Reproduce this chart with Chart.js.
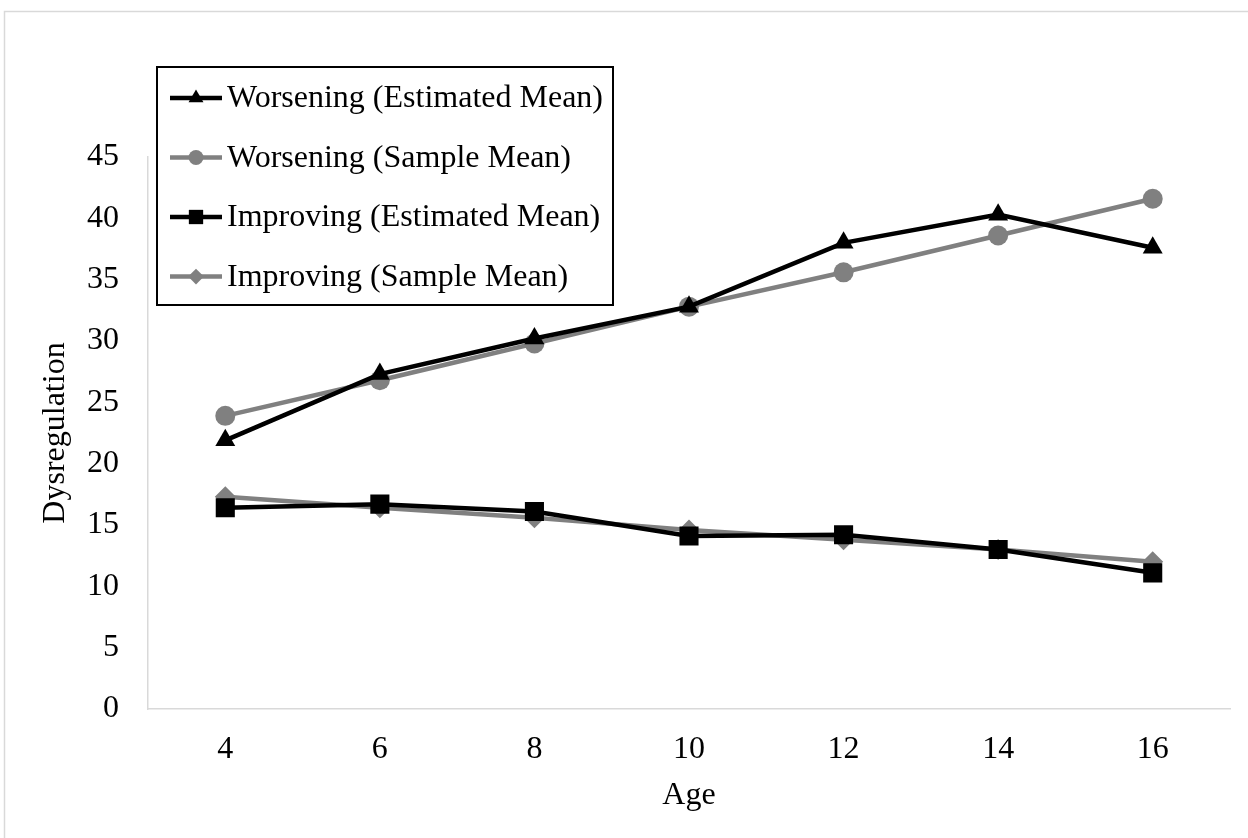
<!DOCTYPE html>
<html>

<head>
  <meta charset="utf-8">
  <script src="https://cdn.jsdelivr.net/npm/chart.js@4/dist/chart.umd.min.js"></script>
  <style>
    html, body { margin: 0; padding: 0; background: #fff; }
    #wrap { width: 1248px; height: 838px; }
  </style>
</head>

<body>
  <div id="wrap"><canvas id="chart" width="1248" height="838"></canvas></div>
  <script>
    var ages = ['4', '6', '8', '10', '12', '14', '16'];
    var worseningEstimated = [21.9, 27.3, 30.2, 32.8, 38.0, 40.3, 37.6];
    var worseningSample = [23.9, 26.8, 29.8, 32.8, 35.6, 38.6, 41.6];
    var improvingEstimated = [16.4, 16.7, 16.1, 14.1, 14.2, 13.0, 11.1];
    var improvingSample = [17.3, 16.4, 15.6, 14.6, 13.8, 13.0, 12.0];
    var yTicks = [0, 5, 10, 15, 20, 25, 30, 35, 40, 45];

    var serif = "'Liberation Serif', 'Times New Roman', serif";
    var fontSize = 32;

    function series(label, values, color, style, radius) {
      return {
        label: label,
        data: values,
        borderColor: color,
        backgroundColor: color,
        borderWidth: 4.5,
        pointStyle: style,
        pointRadius: radius,
        pointHoverRadius: radius,
        pointBorderWidth: 0,
        tension: 0
      };
    }

    // outer chart frame
    var framePlugin = {
      id: 'frame',
      beforeDraw: function (chart) {
        var ctx = chart.ctx;
        ctx.save();
        ctx.fillStyle = '#fff';
        ctx.fillRect(0, 0, chart.width, chart.height);
        ctx.strokeStyle = '#d9d9d9';
        ctx.lineWidth = 1.5;
        ctx.strokeRect(4.5, 11.5, chart.width + 20, chart.height + 20);
        ctx.restore();
      }
    };

    // boxed legend drawn over the top left of the plot
    var boxLegend = {
      id: 'boxLegend',
      afterDatasetsDraw: function (chart) {
        var ctx = chart.ctx;
        var x0 = 157, y0 = 67, w = 456, h = 238;
        ctx.save();
        ctx.fillStyle = '#fff';
        ctx.fillRect(x0, y0, w, h);
        ctx.strokeStyle = '#000';
        ctx.lineWidth = 2;
        ctx.strokeRect(x0, y0, w, h);
        ctx.font = fontSize + 'px ' + serif;
        ctx.textBaseline = 'middle';
        ctx.textAlign = 'left';
        chart.data.datasets.forEach(function (ds, i) {
          var y = 98 + i * 59.5;
          ctx.strokeStyle = ds.borderColor;
          ctx.lineWidth = 4.5;
          ctx.beginPath();
          ctx.moveTo(170, y);
          ctx.lineTo(222, y);
          ctx.stroke();
          ctx.fillStyle = ds.backgroundColor;
          Chart.helpers.drawPoint(ctx, {
            pointStyle: ds.pointStyle,
            radius: ds.pointRadius * 0.75,
            rotation: 0,
            borderWidth: 0
          }, 196, y);
          ctx.fillStyle = '#000';
          ctx.fillText(ds.label, 227, y + 1);
        });
        ctx.restore();
      }
    };

    new Chart('chart', {
      type: 'line',
      data: {
        labels: ages,
        datasets: [
          series('Worsening (Estimated Mean)', worseningEstimated, '#000000', 'triangle', 11.5),
          series('Worsening (Sample Mean)', worseningSample, '#808080', 'circle', 10),
          series('Improving (Estimated Mean)', improvingEstimated, '#000000', 'rect', 13.5),
          series('Improving (Sample Mean)', improvingSample, '#808080', 'rectRot', 10.5)
        ]
      },
      options: {
        responsive: false,
        animation: false,
        layout: { padding: { left: 4, top: 157, right: 18, bottom: 0 } },
        plugins: {
          legend: { display: false },
          tooltip: { enabled: false }
        },
        scales: {
          x: {
            offset: true,
            grid: { display: false, drawTicks: false },
            border: { display: true, color: '#d9d9d9', width: 1.5 },
            ticks: { color: '#000', font: { family: serif, size: fontSize }, padding: 21, maxRotation: 0 },
            title: { display: true, text: 'Age', color: '#000', font: { family: serif, size: fontSize }, padding: { top: 0, bottom: 23 } },
            afterFit: function (scale) { scale.height = 129; }
          },
          y: {
            min: 0,
            max: 45,
            afterBuildTicks: function (scale) {
              scale.ticks = yTicks.map(function (v) { return { value: v }; });
            },
            grid: { display: false, drawTicks: false },
            border: { display: true, color: '#d9d9d9', width: 1.5 },
            ticks: { color: '#000', font: { family: serif, size: fontSize }, padding: 29 },
            title: { display: true, text: 'Dysregulation', color: '#000', font: { family: serif, size: fontSize }, padding: { top: 32, bottom: 0 } },
            afterFit: function (scale) { scale.width = 144; }
          }
        }
      },
      plugins: [framePlugin, boxLegend]
    });
  </script>
</body>

</html>
